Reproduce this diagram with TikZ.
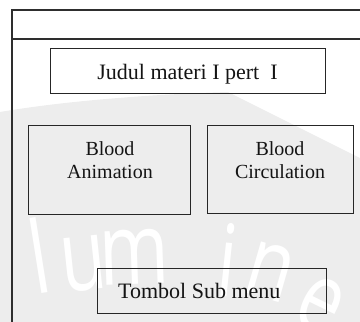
\documentclass[tikz,border=0pt]{standalone}
\usepackage{fontspec}
\setmainfont{Liberation Serif}
\newfontfamily\wmfont[FakeStretch=0.75]{Open Sans}
\begin{document}
\begin{tikzpicture}[x=1pt,y=-1pt,
  frameline/.style={draw=black!82, line width=1.1pt},
  panel/.style={draw=black!85, line width=1.4pt, inner sep=0pt, anchor=north west},
  bigtext/.style={font=\fontsize{22}{26}\selectfont, text=black!92, inner sep=0pt},
  captext/.style={font=\fontsize{20}{23}\selectfont, text=black!92, inner sep=0pt, align=center, anchor=north},
  wmletter/.style={font=\wmfont\fontsize{100}{100}\selectfont, text=white, inner sep=0pt}
]
\useasboundingbox (0,0) rectangle (360,322);

% faint background seal
\fill[black!7] (0,112) .. controls (70,100) and (160,94) .. (228,92)
  -- (360,158) -- (360,322) -- (0,322) -- cycle;
\node[wmletter, rotate=9]   (wl) at (39,255) {l};
\node[wmletter, rotate=6]   (wu) at (84,264) {u};
\node[wmletter, rotate=2]   (wm) at (134,257) {m};
\node[wmletter, rotate=-6]  (wi) at (228,260) {i};
\node[wmletter, rotate=-16] (wn) at (270,272) {n};
\node[wmletter, rotate=-26] (we) at (320,306) {e};

% window frame with header bar
\coordinate (tl) at (12,10);
\coordinate (tr) at (360,10);
\coordinate (bl) at (12,322);
\coordinate (hl) at (12,39);
\coordinate (hr) at (360,39);
\draw[frameline] (bl) -- (tl) -- (tr);
\draw[frameline] (hl) -- (hr);

% panels
\node[panel, minimum width=275, minimum height=45] (title) at (50,48) {};
\node[panel, minimum width=162, minimum height=89] (anim) at (28,125) {};
\node[panel, minimum width=146, minimum height=88] (circ) at (207,125) {};
\node[panel, minimum width=229, minimum height=45] (tombol) at (97,268) {};

% captions
\node[bigtext, anchor=base] (judul) at (187.5,79) {Judul materi I pert\ \ I};
\node[captext] (animtxt) at (110,141) {Blood\\Animation};
\node[captext] (circtxt) at (280,141) {Blood\\Circulation};
\node[bigtext, anchor=base west] (tombtxt) at (118,298) {Tombol Sub menu};
\end{tikzpicture}
\end{document}
